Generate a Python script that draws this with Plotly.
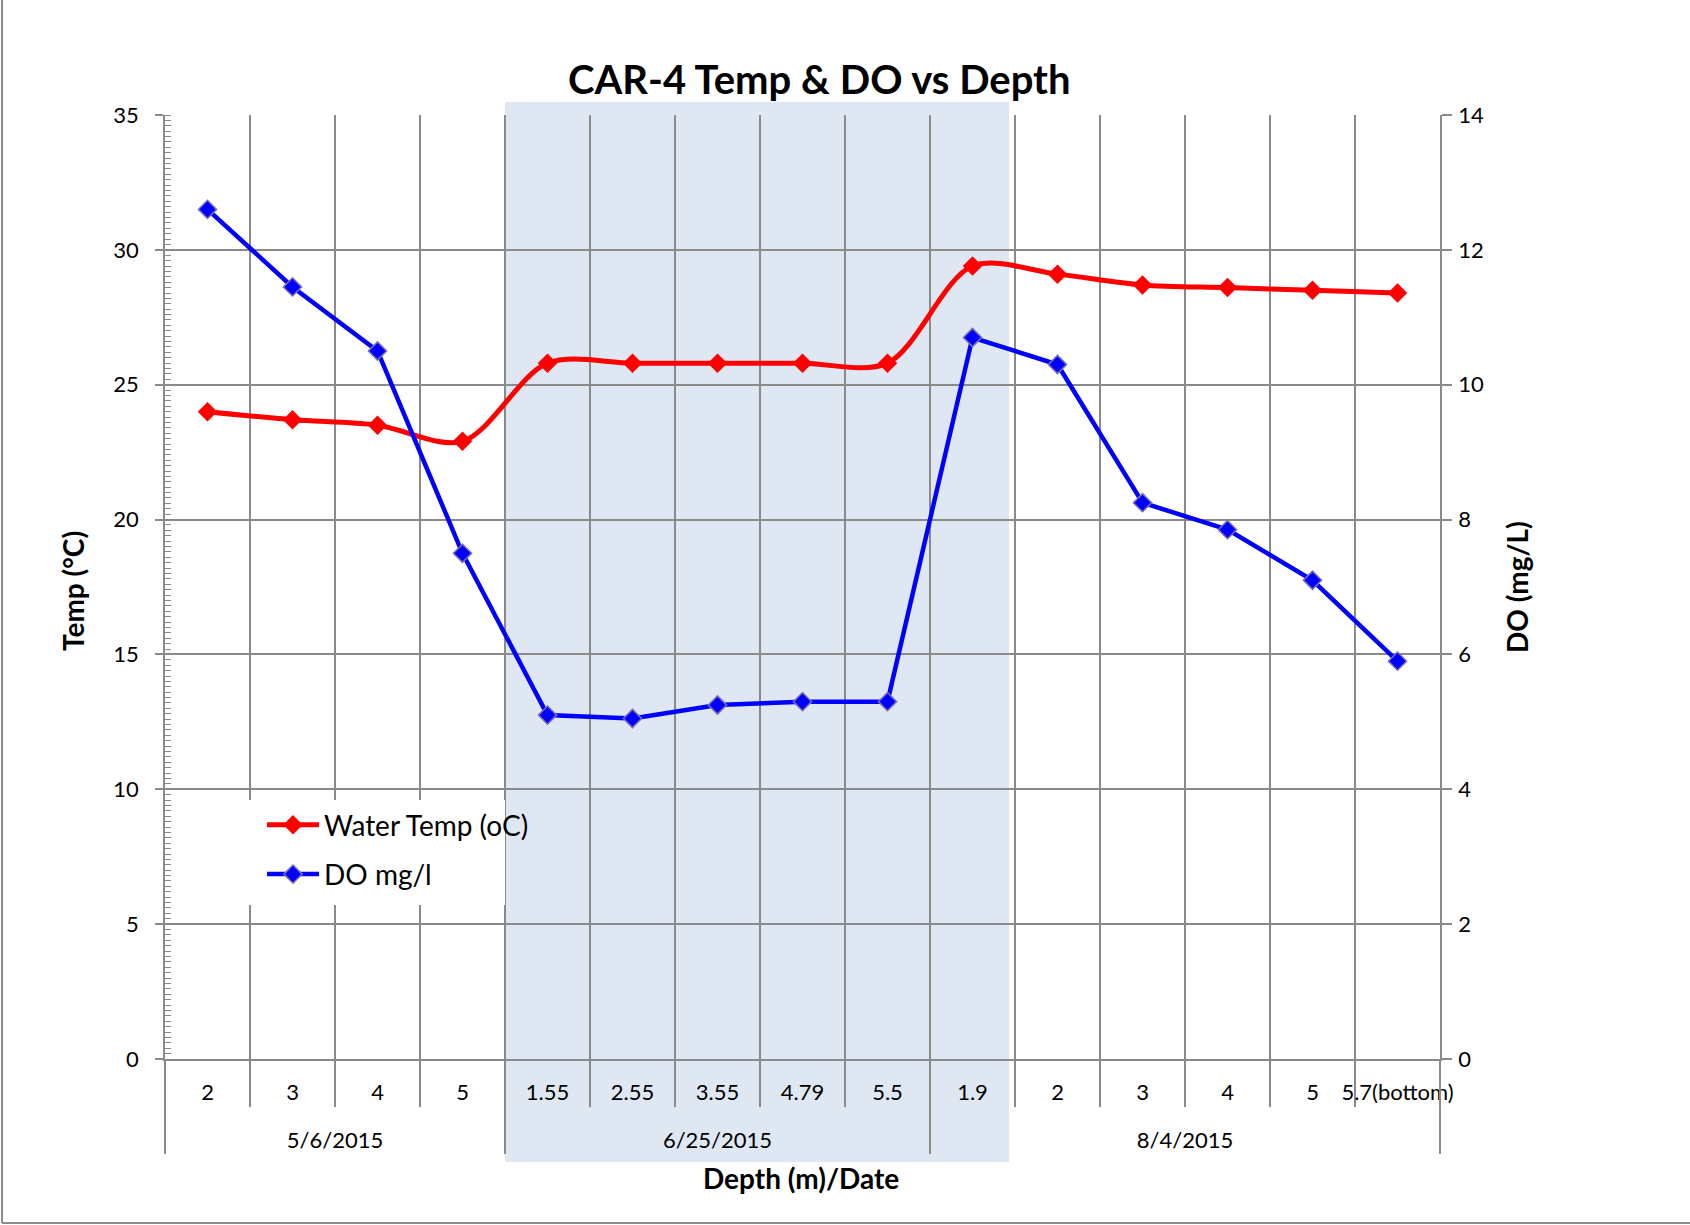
import plotly.graph_objects as go

# ---------------- data ----------------
depth_labels = ["2", "3", "4", "5", "1.55", "2.55", "3.55", "4.79", "5.5",
                "1.9", "2", "3", "4", "5", "5.7(bottom)"]
date_labels = ["5/6/2015", "6/25/2015", "8/4/2015"]
date_counts = [4, 5, 6]
water_temp = [24.0, 23.7, 23.5, 22.9, 25.8, 25.8, 25.8, 25.8, 25.8,
              29.4, 29.1, 28.7, 28.6, 28.5, 28.4]
do_mgl = [12.6, 11.45, 10.5, 7.5, 5.1, 5.05, 5.25, 5.3, 5.3,
          10.7, 10.3, 8.25, 7.85, 7.1, 5.9]
temp_ticks = [0, 5, 10, 15, 20, 25, 30, 35]
do_ticks = [0, 2, 4, 6, 8, 10, 12, 14]

# ---------------- derived positions ----------------
n = len(depth_labels)
xpos = [i + 0.5 for i in range(n)]
bounds = [0]
for c in date_counts:
    bounds.append(bounds[-1] + c)
date_centers = [(bounds[i] + bounds[i + 1]) / 2 for i in range(len(date_counts))]

FONT = "Lato, Carlito, Calibri, 'Open Sans', sans-serif"
GRID = "#8a8a8a"

W, H = 1690, 1225
L, R, T, B = 165, 250, 115, 166
PW, PH = W - L - R, H - T - B


def px_x(px):
    return (px - L) / PW


def px_y(py):
    return (H - B - py) / PH


fig = go.Figure()

fig.add_trace(go.Scatter(
    x=xpos, y=water_temp, name="Water Temp (oC)",
    mode="lines+markers", legendgroup="a",
    line=dict(color="#ff0000", width=5, shape="spline", smoothing=0.9),
    marker=dict(symbol="diamond", size=15, color="#ff0000"),
    xaxis="x", yaxis="y",
))
fig.add_trace(go.Scatter(
    x=xpos, y=do_mgl, name="DO mg/l",
    mode="lines+markers", legendgroup="b",
    line=dict(color="#0000ff", width=4.5),
    marker=dict(symbol="diamond", size=14, color="#0000ff",
                line=dict(color="#7a6fb0", width=1.5)),
    xaxis="x2", yaxis="y2",
))

# shaded block (6/25/2015 group through the first 8/4 reading)
shade_x0 = bounds[1] / n
shade_x1 = (bounds[2] + 0.93) / n
shapes = [
    dict(type="rect", xref="paper", yref="paper",
         x0=shade_x0, x1=shade_x1, y0=px_y(1162), y1=px_y(102),
         fillcolor="#dfe7f2", line=dict(width=0), layer="below"),
    # white legend box hiding the grid behind the legend
    dict(type="rect", xref="paper", yref="paper",
         x0=px_x(238), x1=shade_x0, y0=px_y(905), y1=px_y(800),
         fillcolor="white", line=dict(width=0), layer="above"),
    # chart-area border (left and bottom)
    dict(type="line", xref="paper", yref="paper",
         x0=px_x(2), x1=px_x(2), y0=px_y(0), y1=px_y(1223),
         line=dict(color="#8c8c8c", width=2)),
    dict(type="line", xref="paper", yref="paper",
         x0=px_x(2), x1=px_x(1690), y0=px_y(1223), y1=px_y(1223),
         line=dict(color="#8c8c8c", width=2)),
]

annotations = [
    dict(text="<b>CAR-4 Temp & DO vs Depth</b>", xref="paper", yref="paper",
         x=px_x(820), y=px_y(79), showarrow=False,
         font=dict(size=40, color="black", family=FONT),
         xanchor="center", yanchor="middle"),
    dict(text="<b>Temp (°C)</b>", xref="paper", yref="paper",
         x=px_x(73), y=px_y(591), showarrow=False, textangle=-90,
         font=dict(size=28, color="black", family=FONT),
         xanchor="center", yanchor="middle"),
    dict(text="<b>DO (mg/L)</b>", xref="paper", yref="paper",
         x=px_x(1517), y=px_y(587), showarrow=False, textangle=-90,
         font=dict(size=28, color="black", family=FONT),
         xanchor="center", yanchor="middle"),
    dict(text="<b>Depth (m)/Date</b>", xref="paper", yref="paper",
         x=px_x(801), y=px_y(1178), showarrow=False,
         font=dict(size=28, color="black", family=FONT),
         xanchor="center", yanchor="middle"),
]

fig.update_layout(
    width=W, height=H,
    margin=dict(l=L, r=R, t=T, b=B, pad=0),
    paper_bgcolor="white",
    plot_bgcolor="rgba(0,0,0,0)",
    font=dict(family=FONT, color="black", size=22),
    showlegend=True,
    legend=dict(x=px_x(262), y=px_y(800), xanchor="left", yanchor="top",
                bgcolor="rgba(0,0,0,0)", borderwidth=0,
                font=dict(size=28, family=FONT, color="black"),
                traceorder="grouped", tracegroupgap=10, itemwidth=52),
    shapes=shapes,
    annotations=annotations,
    xaxis=dict(
        range=[0, n], tickmode="array", tickvals=xpos, ticktext=depth_labels,
        ticks="", showgrid=False, zeroline=False,
        showline=True, linecolor=GRID, linewidth=1.5,
        tickfont=dict(size=22, family=FONT, color="black"),
        ticklabelstandoff=13,
        minor=dict(tickmode="linear", tick0=0, dtick=1, ticks="outside",
                   ticklen=46, tickwidth=1.5, tickcolor=GRID,
                   showgrid=True, gridcolor=GRID, gridwidth=1.5),
        fixedrange=True,
    ),
    xaxis2=dict(
        overlaying="x", anchor="y", side="bottom",
        range=[0, n], tickmode="array", tickvals=date_centers, ticktext=date_labels,
        ticks="", showgrid=False, zeroline=False, showline=False,
        tickfont=dict(size=22, family=FONT, color="black"),
        ticklabelstandoff=66,
        minor=dict(tickmode="array", tickvals=bounds, ticks="outside",
                   ticklen=94, tickwidth=1.5, tickcolor=GRID, showgrid=False),
        fixedrange=True,
    ),
    yaxis=dict(
        range=[0, 35], tickmode="array", tickvals=temp_ticks,
        ticks="outside", ticklen=8, tickwidth=1.5, tickcolor=GRID,
        showgrid=True, gridcolor=GRID, gridwidth=1.5, zeroline=False,
        showline=True, linecolor=GRID, linewidth=1.5,
        tickfont=dict(size=22, family=FONT, color="black"),
        ticklabelstandoff=12,
        minor=dict(tickmode="linear", tick0=0, dtick=0.2, ticks="inside",
                   ticklen=6, tickwidth=1, tickcolor=GRID, showgrid=False),
        fixedrange=True,
    ),
    yaxis2=dict(
        overlaying="y", anchor="x", side="right",
        range=[0, 14], tickmode="array", tickvals=do_ticks,
        ticks="outside", ticklen=10, tickwidth=1.5, tickcolor=GRID,
        showgrid=False, zeroline=False,
        showline=True, linecolor=GRID, linewidth=1.5,
        tickfont=dict(size=22, family=FONT, color="black"),
        ticklabelstandoff=2,
        fixedrange=True,
    ),
)

fig.write_html("out.html", config={"displayModeBar": False},
               post_script="document.body.style.margin='0px';")
